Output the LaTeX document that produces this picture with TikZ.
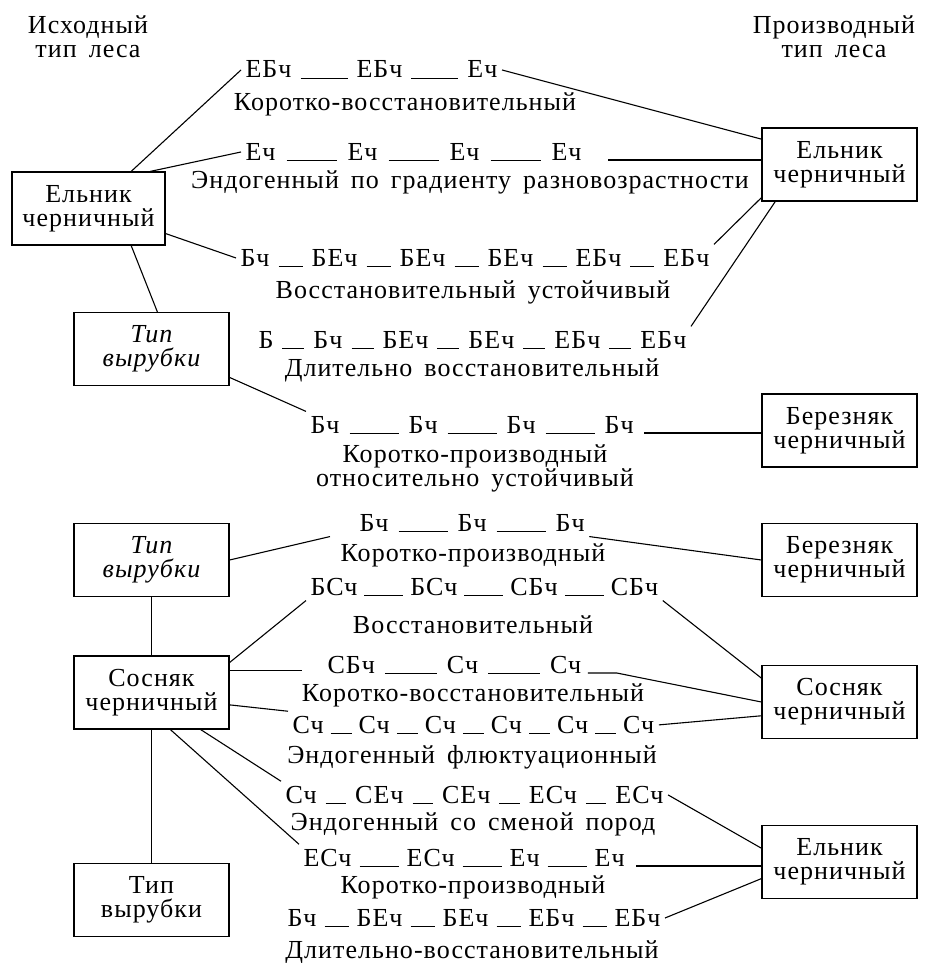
\documentclass[tikz,border=0pt]{standalone}
\usepackage{fontspec}
\setmainfont{Liberation Serif}[LetterSpace=4,WordSpace=1.6]
\usetikzlibrary{calc}

% dash between the stand types: [gap]{length}
\newcommand{\gl}[2][9]{\hspace{#1pt}\rule[-1pt]{#2pt}{1.3pt}\hspace{#1pt}}

\begin{document}
\begin{tikzpicture}[x=1pt,y=-1pt,line width=1.1pt,
  every node/.style={font=\fontsize{26}{24}\selectfont},
  box/.style={draw,line width=1.2pt,minimum width=155pt,minimum height=73pt,align=center,inner sep=2pt},
  ital/.style={font=\fontsize{26}{24}\selectfont\itshape},
  row/.style={anchor=base west,inner sep=4pt},
  lbl/.style={anchor=base,inner sep=1pt}]
  \useasboundingbox (0,0) rectangle (925,963);

  % headers
  \node[align=center] (hsrc) at (88,37) {Исходный\\тип леса};
  \node[align=center] (hder) at (834,37) {Производный\\тип леса};

  % left column
  \node[box,minimum width=153pt] (src1) at (88.5,208.5) {Ельник\\черничный};
  \node[box,ital] (cut1) at (151.5,349) {Тип\\вырубки};
  \node[box,ital] (cut2) at (151.5,560) {Тип\\вырубки};
  \node[box] (src2) at (151.5,692.5) {Сосняк\\черничный};
  \node[box] (cut3) at (151.5,900) {Тип\\вырубки};

  % right column
  \node[box] (der1) at (839.5,164.5) {Ельник\\черничный};
  \node[box] (der2) at (839.5,430.5) {Березняк\\черничный};
  \node[box] (der3) at (839.5,560) {Березняк\\черничный};
  \node[box] (der4) at (839.5,702) {Сосняк\\черничный};
  \node[box] (der5) at (839.5,862) {Ельник\\черничный};

  % successions (spruce)
  \node[row] (r1) at (241,78) {ЕБч\gl{47}ЕБч\gl{47}Еч};
  \node[lbl] (t1) at (405,111) {Коротко-восстановительный};
  \node[row] (r2) at (241,160) {Еч\gl[11]{50}Еч\gl[11]{50}Еч\gl[11]{50}Еч};
  \node[lbl] (t2) at (470,188) {Эндогенный по градиенту разновозрастности};
  \node[row] (r3) at (236,266) {Бч\gl{24}БЕч\gl{24}БЕч\gl{24}БЕч\gl{24}ЕБч\gl{24}ЕБч};
  \node[lbl] (t3) at (473,298) {Восстановительный устойчивый};
  \node[row] (r4) at (254,348) {Б\gl{22}Бч\gl{22}БЕч\gl{22}БЕч\gl{22}ЕБч\gl{22}ЕБч};
  \node[lbl] (t4) at (472,376) {Длительно восстановительный};
  \node[row] (r5) at (306,433) {Бч\gl[10]{49}Бч\gl[10]{49}Бч\gl[10]{49}Бч};
  \node[anchor=north,align=center,inner sep=1pt] (t5) at (475,443) {Коротко-производный\\относительно устойчивый};

  % successions (pine)
  \node[row] (r6) at (355,531) {Бч\gl[10]{49}Бч\gl[10]{49}Бч};
  \node[lbl] (t6) at (473,561) {Коротко-производный};
  \node[row] (r7) at (306,595) {БСч\gl[7]{39}БСч\gl[7]{39}СБч\gl[7]{39}СБч};
  \node[lbl] (t7) at (473,633) {Восстановительный};
  \node[row] (r8) at (323,673) {СБч\gl[10]{52}Сч\gl[10]{52}Сч};
  \coordinate (r8in) at ([xshift=-21pt]r8.west);
  \node[lbl] (t8) at (473,701) {Коротко-восстановительный};
  \node[row] (r9) at (288,733) {Сч\gl[7]{21}Сч\gl[7]{21}Сч\gl[7]{21}Сч\gl[7]{21}Сч\gl[7]{21}Сч};
  \node[lbl] (t9) at (472,763) {Эндогенный флюктуационный};
  \node[row] (r10) at (281,803) {Сч\gl{20.5}СЕч\gl{20.5}СЕч\gl{20.5}ЕСч\gl{20.5}ЕСч};
  \node[lbl] (t10) at (473,830) {Эндогенный со сменой пород};
  \node[row] (r11) at (299,866) {ЕСч\gl[8]{39}ЕСч\gl[8]{39}Еч\gl[8]{39}Еч};
  \node[lbl] (t11) at (473,893) {Коротко-производный};
  \node[row] (r12) at (283,926) {Бч\gl[8]{24}БЕч\gl[8]{24}БЕч\gl[8]{24}ЕБч\gl[8]{24}ЕБч};
  \node[lbl] (t12) at (472,958) {Длительно-восстановительный};

  % links, upper part
  \draw (src1.41) -- (r1.west);
  \draw (src1.31) -- (r2.west);
  \draw (src1.342) -- (r3.west);
  \draw (src1.319) -- (cut1.81);
  \draw (cut1.340) -- (r5.north west);
  \draw (r1.east) -- (der1.162);
  \draw ([xshift=22pt]r2.base east) -- (der1.west |- r2.base);
  \draw (r3.north east) -- (der1.203);
  \draw (r4.north east) -- (der1.210);
  \draw ([xshift=6pt]r5.base east) -- (der2.west |- r5.base);

  % links, lower part
  \draw (cut2.east) -- ([xshift=-25pt]r6.south west);
  \draw (r6.south east) -- (der3.west);
  \draw (cut2.south) -- (src2.north);
  \draw (src2.21) -- (r7.south west);
  \draw (src2.16) -- (src2.16 -| r8in);
  \draw (src2.351) -- (r9.north west);
  \draw (src2.323) -- (r10.north west);
  \draw (src2.297) -- (r11.north west);
  \draw (src2.south) -- (cut3.north);
  \draw (r7.south east) -- (der4.163);
  \draw ([xshift=2pt]r8.base east) -- ++(29,0) -- (der4.west);
  \draw (r9.east) -- (der4.190);
  \draw (r10.east) -- (der5.170);
  \draw ([xshift=7pt]r11.base east) -- (der5.west |- r11.base);
  \draw (r12.east) -- (der5.192);
\end{tikzpicture}
\end{document}
